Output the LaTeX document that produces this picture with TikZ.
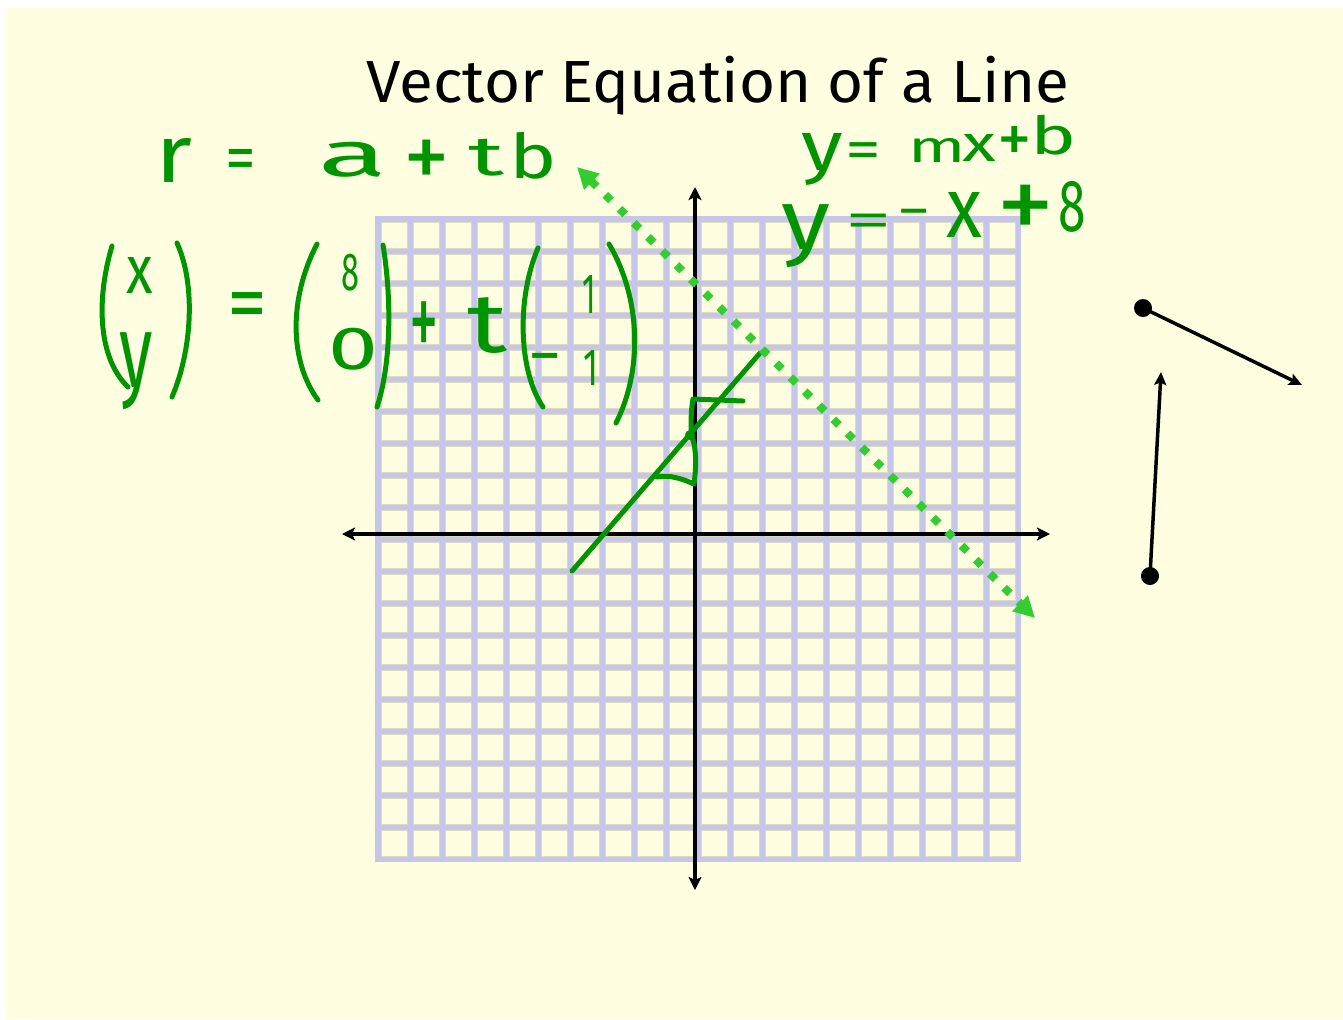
\documentclass[tikz,border=0pt]{standalone}
\usepackage{fontspec}
\setmainfont{Fira Sans}
\usetikzlibrary{arrows.meta}
\definecolor{bgyellow}{RGB}{255,254,224}
\definecolor{gridlav}{RGB}{198,198,232}
\definecolor{celltan}{RGB}{224,218,190}
\definecolor{hwgreen}{RGB}{0,148,0}
\definecolor{dotgreen}{RGB}{51,204,51}
\newlength{\pxu}\setlength{\pxu}{0.02cm}
\newdimen\gbL \newdimen\gbT \newdimen\gbR \newdimen\gbB
\newcommand{\tightchar}[1]{%
  \count255=\XeTeXcharglyph`#1\relax
  \gbL=\XeTeXglyphbounds1 \count255
  \gbT=\XeTeXglyphbounds2 \count255
  \gbR=\XeTeXglyphbounds3 \count255
  \gbB=\XeTeXglyphbounds4 \count255
  \raisebox{\gbB}[\dimexpr\gbT+\gbB\relax][0pt]{\kern-\gbL #1\kern-\gbR}%
}
\newcommand{\hwtok}[6]{\node[hw] (#1) at (#2,#3) {\resizebox*{#4\pxu}{#5\pxu}{\tightchar{#6}}};}
\tikzset{
  hw/.style={text=hwgreen, inner sep=0pt, font=\fontsize{16}{16}\selectfont},
  ttl/.style={text=black, inner sep=0pt, font=\fontsize{30}{30}\selectfont},
  hwline/.style={draw=hwgreen, line width=0.1cm, line cap=round, line join=round},
  axisline/.style={draw=black, line width=0.09cm,
    {Stealth[length=0.26cm,width=0.26cm,inset=0.06cm]}-{Stealth[length=0.26cm,width=0.26cm,inset=0.06cm]}},
  dotline/.style={draw=dotgreen, line width=0.16cm, dash pattern=on 0.16cm off 0.24cm,
    {Triangle[length=0.42cm,width=0.42cm]}-{Triangle[length=0.42cm,width=0.42cm]}},
  vecline/.style={draw=black, line width=0.07cm, -{Stealth[length=0.26cm,width=0.24cm,inset=0.05cm]}},
  bigdot/.style={circle, fill=black, inner sep=0pt, minimum size=0.36cm},
}
\begin{document}
\begin{tikzpicture}[x=0.02cm,y=-0.02cm]
\useasboundingbox (0,0) rectangle (1343,1019);
\fill[white] (0,0) rectangle (1343,1019);
\fill[bgyellow] (5,8) rectangle (1343,1019);
% grid
\fill[gridlav] (375,216) rectangle (1021,862);
\foreach \i in {0,...,19}{
  \foreach \j in {0,...,19}{
    \filldraw[fill=bgyellow, draw=celltan, line width=0.02cm]
      ({381+32*\i},{222+32*\j}) rectangle +(26,26);
  }
}
% axes
\coordinate (xl) at (342,534); \coordinate (xr) at (1050,534);
\coordinate (yt) at (695,187); \coordinate (yb) at (695,890);
\draw[axisline] (xl) -- (xr);
\draw[axisline] (yt) -- (yb);
% hand-drawn line and mark
\coordinate (ha) at (572,571); \coordinate (hb) at (760,353);
\draw[hwline] (ha) -- (hb);
\draw[hwline] (743,401) -- (693,399) .. controls (691,410) and (691,420) .. (691,432);
\fill[hwgreen] (690,435) circle (0.1cm);
\draw[hwline] (692,437) .. controls (697,450) and (696,470) .. (694,484) .. controls (685,480) and (670,474) .. (657,477);
% dotted line
\coordinate (da) at (577,167); \coordinate (db) at (1035,618);
\draw[dotline] (da) -- (db);
% title
\node[ttl] (title) at (718,86) {\resizebox*{703\pxu}{59\pxu}{Vector Equation of a Line}};
% r = a + tb
\hwtok{hr}{178}{160}{27}{44}{r}
\hwtok{heqa}{241}{158}{23}{18}{=}
\hwtok{ha1}{353}{160}{57}{35}{a}
\hwtok{hpa}{427}{158}{35}{35}{+}
\hwtok{hta}{487}{158}{35}{37}{t}
\hwtok{hba}{535}{156}{35}{47}{b}
% matrix equation
\hwtok{mx}{140}{275}{26}{36}{x}
\hwtok{my}{136}{371}{32}{77}{y}
\hwtok{meq}{247}{304}{30}{22}{=}
\hwtok{meight}{350}{273}{15}{37}{8}
\hwtok{mzero}{353}{349}{40}{42}{0}
\hwtok{mplus}{424}{322}{22}{41}{+}
\hwtok{mt}{488}{325}{39}{56}{t}
\hwtok{monea}{588}{294}{9}{38}{1}
\hwtok{mminus}{545}{356}{25}{5}{−}
\hwtok{moneb}{590}{368}{10}{35}{1}
\draw[hwline] (112,246) .. controls (96,300) and (98,358) .. (128,387);
\draw[hwline] (177,243) .. controls (196,285) and (192,350) .. (172,397);
\draw[hwline] (317,244) .. controls (288,300) and (290,362) .. (318,400);
\draw[hwline] (383,245) .. controls (392,300) and (391,365) .. (377,407);
\draw[hwline] (538,248) .. controls (516,300) and (519,372) .. (543,407);
\draw[hwline] (609,244) .. controls (642,300) and (642,372) .. (616,423);
% y = mx + b
\hwtok{ya}{822}{159}{40}{52}{y}
\hwtok{yeqa}{863}{150}{27}{15}{=}
\hwtok{ym}{937}{150}{45}{24}{m}
\hwtok{yx}{979}{148}{33}{27}{x}
\hwtok{yp}{1015}{140}{26}{26}{+}
\hwtok{yb2}{1055}{135}{34}{40}{b}
% y = -x + 8
\hwtok{zy}{806}{236}{47}{63}{y}
\hwtok{zeq}{869}{221}{35}{13}{=}
\hwtok{zmi}{914}{211}{25}{4}{−}
\hwtok{zx}{964}{215}{35}{45}{x}
\hwtok{zp}{1026}{205}{44}{40}{+}
\hwtok{ze}{1072}{207}{23}{51}{8}
% right-hand vectors
\node[bigdot] (d1) at (1143,308) {};
\coordinate (e1) at (1302,385);
\draw[vecline] (d1.center) -- (e1);
\node[bigdot] (d2) at (1150,576) {};
\coordinate (e2) at (1161,372);
\draw[vecline] (d2.center) -- (e2);
\end{tikzpicture}
\end{document}
